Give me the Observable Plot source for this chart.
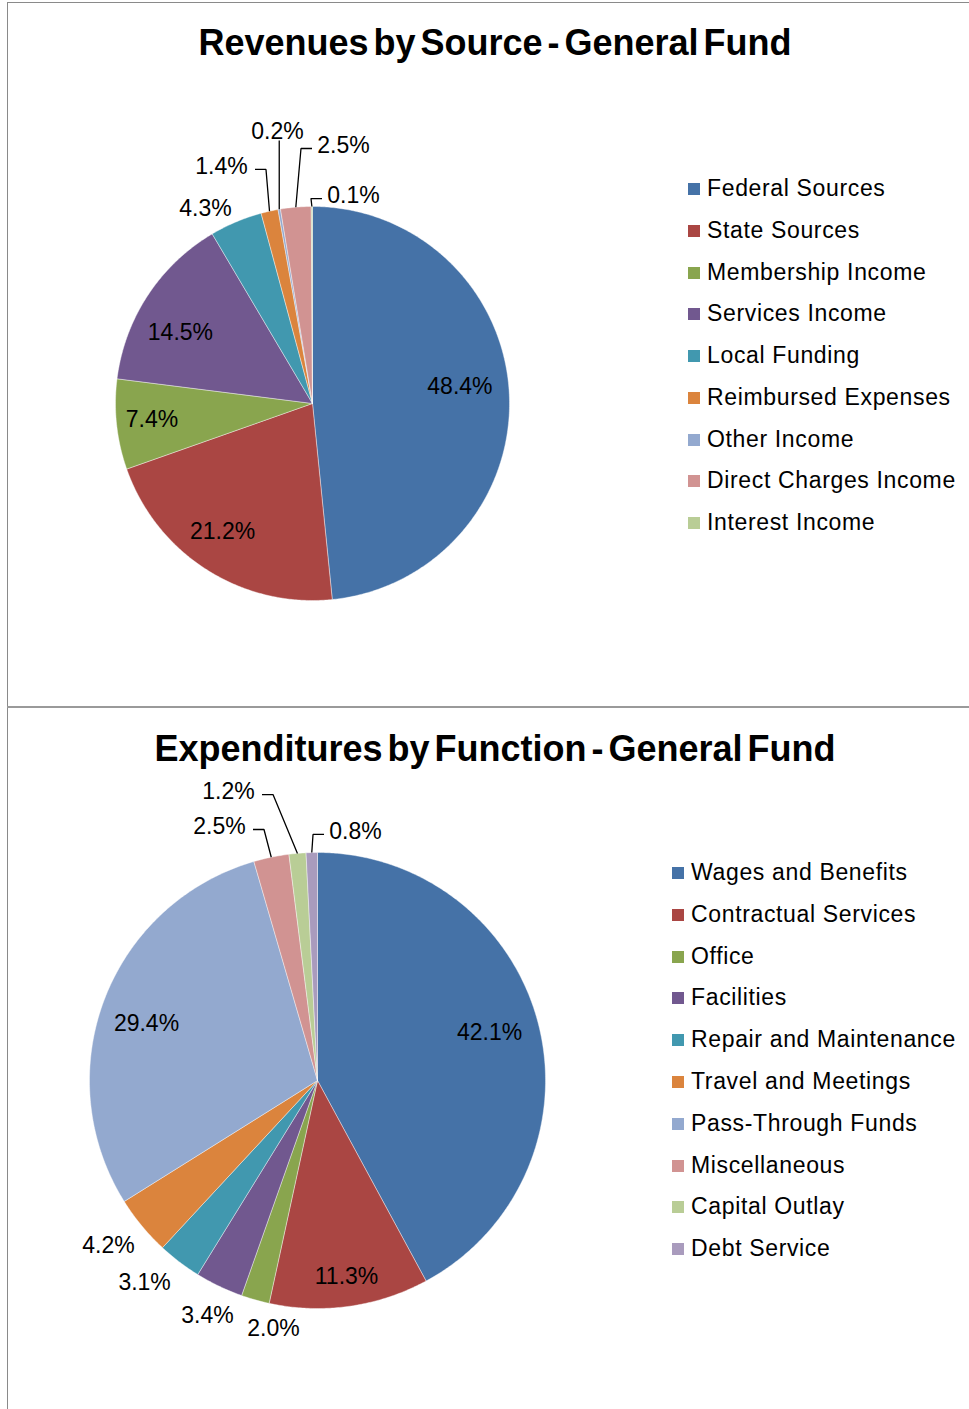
<!DOCTYPE html>
<html><head><meta charset="utf-8">
<script src="https://cdn.jsdelivr.net/npm/d3@7"></script>
<script src="https://cdn.jsdelivr.net/npm/@observablehq/plot@0.6"></script>
<style>
body{margin:0;background:#fff;}
#page{position:relative;width:969px;height:1409px;overflow:hidden;background:#fff;font-family:"Liberation Sans",Arial,sans-serif;color:#000;}
.frame{position:absolute;background:#8a8a8a;}
.title{position:absolute;left:0;width:990px;text-align:center;font-weight:bold;font-size:36px;word-spacing:-5px;line-height:36px;white-space:nowrap;}
.leg{position:absolute;font-size:23px;letter-spacing:0.65px;line-height:23px;white-space:nowrap;}
.sw{position:absolute;width:12px;height:12px;}
.pie{position:absolute;}
.pie svg{overflow:visible;}
</style></head><body><div id="page"></div>
<script>
// ---------- data ----------
const revCategories = ["Federal Sources","State Sources","Membership Income","Services Income","Local Funding","Reimbursed Expenses","Other Income","Direct Charges Income","Interest Income"];
const revValues = [48.4, 21.2, 7.4, 14.5, 4.3, 1.4, 0.2, 2.5, 0.1];
const expCategories = ["Wages and Benefits","Contractual Services","Office","Facilities","Repair and Maintenance","Travel and Meetings","Pass-Through Funds","Miscellaneous","Capital Outlay","Debt Service"];
const expValues = [42.1, 11.3, 2.0, 3.4, 3.1, 4.2, 29.4, 2.5, 1.2, 0.8];
const revTitle = "Revenues by Source - General Fund";
const expTitle = "Expenditures by Function - General Fund";
const palette = ["#4572A7","#AA4643","#89A54E","#71588F","#4198AF","#DB843D","#93A9CF","#D19392","#B9CD96","#A99BBD"];

// ---------- layout (label placement in polar form: radius factor k, angle a in degrees clockwise from 12 o'clock) ----------
const revLabelLayout = [
  {k:0.753, a:83.6}, {k:0.796, a:215.0}, {k:0.819, a:264.3}, {k:0.760, a:298.1},
  {k:1.129, a:-28.75},
  {k:1.289, a:-21.0, leader:"h"},
  {k:1.392, a:-7.33, leader:"v"},
  {k:1.319, a:6.85, leader:"h"},
  {k:1.076, a:11.15, leader:"h"}
];
const expLabelLayout = [
  {k:0.783, a:74.6}, {k:0.871, a:171.6},
  {k:1.105, a:190.06}, {k:1.138, a:205.08}, {k:1.166, a:220.57}, {k:1.168, a:231.71},
  {k:0.790, a:288.3},
  {k:1.194, a:-21.1, leader:"h"},
  {k:1.326, a:-17.12, leader:"h"},
  {k:1.105, a:8.68, leader:"h"}
];

const page = document.getElementById("page");
function div(cls, css, text){const d=document.createElement("div");d.className=cls;Object.assign(d.style,css);if(text!=null)d.textContent=text;page.appendChild(d);return d;}

// frame lines
div("frame",{left:"7px",top:"2px",width:"962px",height:"1px"});
div("frame",{left:"7px",top:"2px",width:"1px",height:"1407px"});
div("frame",{left:"7px",top:"706px",width:"962px",height:"2px",background:"#9a9a9a"});

function pieChart({cats, vals, layout, title, titleTop, left, top, width, height, cx, cy, r, legX, legY, legStep}) {
  div("title",{top:titleTop+"px"}, title);
  const data = cats.map((name,i)=>({name, value:vals[i]}));
  const arcs = d3.pie().sort(null).value(d=>d.value)(data);
  // slice polygons in unit-radius space
  const pts = [];
  arcs.forEach(a=>{
    const n = Math.max(2, Math.ceil((a.endAngle-a.startAngle)/(Math.PI/360)));
    pts.push({name:a.data.name, x:0, y:0});
    for(let j=0;j<=n;j++){const t=a.startAngle+(a.endAngle-a.startAngle)*j/n; pts.push({name:a.data.name, x:Math.sin(t), y:Math.cos(t)});}
    pts.push({name:a.data.name, x:0, y:0});
  });
  // labels
  const labels = arcs.map((a,i)=>{
    const L = layout[i], t = L.a*Math.PI/180;
    return {name:a.data.name, text:d3.format(".1f")(a.data.value)+"%", x:L.k*Math.sin(t), y:L.k*Math.cos(t), mid:(a.startAngle+a.endAngle)/2, leader:L.leader};
  });
  const leaders = [];
  const px = 1/r, halfW = 26.5*px;
  labels.forEach(l=>{
    if(!l.leader) return;
    const ex = Math.sin(l.mid), ey = Math.cos(l.mid);
    if(l.leader==="v"){
      leaders.push({id:l.name,x:ex,y:ey},{id:l.name,x:ex,y:l.y-9*px});
    } else {
      const right = l.x > ex;
      const yy = l.y - 3*px;
      const end = right ? l.x - halfW - 5*px : l.x + halfW + 7*px;
      const elbow = right ? end - 11*px : end + 11*px;
      leaders.push({id:l.name,x:ex,y:ey},{id:l.name,x:elbow,y:yy},{id:l.name,x:end,y:yy});
    }
  });
  const chart = Plot.plot({
    width, height, margin:0,
    x:{domain:[-cx/r,(width-cx)/r], axis:null},
    y:{domain:[-(height-cy)/r, cy/r], axis:null},
    color:{domain:cats, range:palette},
    style:{fontFamily:'"Liberation Sans", Arial, sans-serif', background:"transparent", overflow:"visible"},
    marks:[
      Plot.line(pts,{x:"x",y:"y",z:"name",fill:"name",stroke:"white",strokeWidth:0.5,strokeOpacity:0.8,curve:"linear"}),
      Plot.line(leaders,{x:"x",y:"y",z:"id",stroke:"#000",strokeWidth:1.3,curve:"linear",strokeLinecap:"butt",strokeLinejoin:"miter"}),
      Plot.text(labels,{x:"x",y:"y",text:"text",fontSize:23,fill:"#000",textAnchor:"middle",lineAnchor:"middle"})
    ]
  });
  const holder = div("pie",{left:left+"px",top:top+"px",width:width+"px",height:height+"px"});
  holder.appendChild(chart);
  // legend
  cats.forEach((c,i)=>{
    const y = legY + legStep*i;
    div("sw",{left:legX+"px",top:y+"px",background:palette[i]});
    div("leg",{left:(legX+19)+"px",top:(y-6)+"px"}, c);
  });
}

pieChart({cats:revCategories, vals:revValues, layout:revLabelLayout, title:revTitle, titleTop:24.5,
  left:0, top:100, width:620, height:560, cx:312, cy:303, r:197, legX:688, legY:183, legStep:41.75});
pieChart({cats:expCategories, vals:expValues, layout:expLabelLayout, title:expTitle, titleTop:730.5,
  left:0, top:760, width:640, height:600, cx:317, cy:320, r:228, legX:672, legY:867, legStep:41.8});
</script></body></html>
